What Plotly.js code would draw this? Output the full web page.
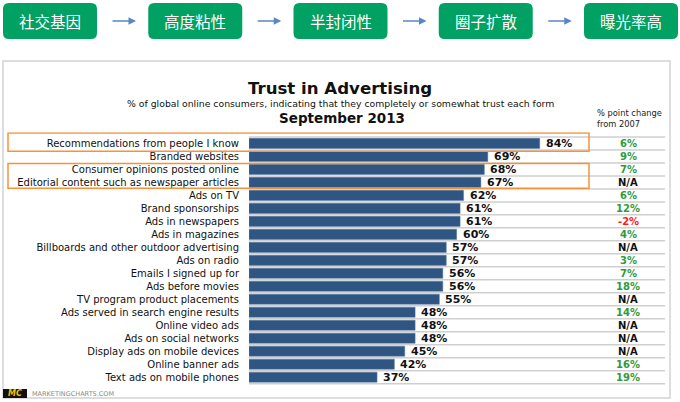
<!DOCTYPE html>
<html>
<head>
<meta charset="utf-8">
<script src="https://cdn.plot.ly/plotly-3.0.1.min.js"></script>
<style>
  html, body { margin: 0; padding: 0; background: #fff; }
  #chart { width: 680px; height: 402px; }
</style>
</head>
<body>
<div id="chart"></div>
<script>
// data
const steps = ['社交基因', '高度粘性', '半封闭性', '圈子扩散', '曝光率高'];
const categories = [
  'Recommendations from people I know',
  'Branded websites',
  'Consumer opinions posted online',
  'Editorial content such as newspaper articles',
  'Ads on TV',
  'Brand sponsorships',
  'Ads in newspapers',
  'Ads in magazines',
  'Billboards and other outdoor advertising',
  'Ads on radio',
  'Emails I signed up for',
  'Ads before movies',
  'TV program product placements',
  'Ads served in search engine results',
  'Online video ads',
  'Ads on social networks',
  'Display ads on mobile devices',
  'Online banner ads',
  'Text ads on mobile phones'
];
const trustValues = [84, 69, 68, 67, 62, 61, 61, 60, 57, 57, 56, 56, 55, 48, 48, 48, 45, 42, 37];
const changeLabels = ['6%', '9%', '7%', 'N/A', '6%', '12%', '-2%', '4%', 'N/A', '3%',
  '7%', '18%', 'N/A', '14%', 'N/A', 'N/A', 'N/A', '16%', '19%'];
const highlightRows = [[0, 0], [2, 3]];

const W = 680, H = 402;
const px = x => x / W;
const py = y => 1 - y / H;
const FONT = 'DejaVu Sans, Verdana, sans-serif';

function roundRect(x0, y0, x1, y1, r) {
  // path in paper units
  let p = 'M' + px(x0 + r) + ',' + py(y0);
  p += ' L' + px(x1 - r) + ',' + py(y0);
  p += ' Q' + px(x1) + ',' + py(y0) + ' ' + px(x1) + ',' + py(y0 + r);
  p += ' L' + px(x1) + ',' + py(y1 - r);
  p += ' Q' + px(x1) + ',' + py(y1) + ' ' + px(x1 - r) + ',' + py(y1);
  p += ' L' + px(x0 + r) + ',' + py(y1);
  p += ' Q' + px(x0) + ',' + py(y1) + ' ' + px(x0) + ',' + py(y1 - r);
  p += ' L' + px(x0) + ',' + py(y0 + r);
  p += ' Q' + px(x0) + ',' + py(y0) + ' ' + px(x0 + r) + ',' + py(y0) + ' Z';
  return p;
}

let shapes = [];
let annotations = [];

// outer frame
shapes.push({
  type: 'rect', xref: 'paper', yref: 'paper',
  x0: px(3), x1: px(670), y0: py(398), y1: py(61),
  line: { color: '#d2d2d2', width: 1.5 }, fillcolor: 'rgba(0,0,0,0)'
});

// process boxes on top
steps.forEach((s, i) => {
  let x0 = 3 + i * 145.25;
  shapes.push({
    type: 'path', xref: 'paper', yref: 'paper',
    path: roundRect(x0, 3, x0 + 94, 39, 6),
    fillcolor: '#00a162', line: { width: 0 }
  });
  annotations.push({
    xref: 'paper', yref: 'paper', x: px(x0 + 47), y: py(21.5),
    text: s, showarrow: false, xanchor: 'center', yanchor: 'middle',
    font: { family: 'Noto Sans CJK SC', size: 15.5, color: '#fff' }
  });
  if (i < steps.length - 1) {
    annotations.push({
      xref: 'paper', yref: 'paper', x: px(x0 + 133), y: py(21),
      ax: -25, ay: 0, text: '', showarrow: true,
      arrowhead: 2, arrowsize: 1, arrowwidth: 1.5, arrowcolor: '#5a86c5'
    });
  }
});

// row separators
for (let i = 0; i <= categories.length; i++) {
  shapes.push({
    type: 'line', xref: 'x domain', yref: 'y',
    x0: 0, x1: 1, y0: i - 0.5, y1: i - 0.5,
    line: { color: '#cfcfcf', width: 1.5 }, layer: 'below'
  });
}

// orange highlight boxes
highlightRows.forEach(r => {
  shapes.push({
    type: 'rect', xref: 'paper', yref: 'y',
    x0: px(8), x1: px(589),
    y0: r[0] - (r[0] === r[1] ? 0.8 : 0.45), y1: r[1] + (r[0] === r[1] ? 0.6 : 0.45),
    line: { color: '#f7923a', width: 1.5 }, fillcolor: 'rgba(0,0,0,0)'
  });
});

// titles
annotations.push(
  { xref: 'paper', yref: 'paper', x: px(340), y: py(88), text: '<b>Trust in Advertising</b>',
    showarrow: false, yanchor: 'middle', font: { family: FONT, size: 16.6, color: '#111' } },
  { xref: 'paper', yref: 'paper', x: px(340), y: py(104), text: '% of global online consumers, indicating that they completely or somewhat trust each form',
    showarrow: false, yanchor: 'middle', font: { family: FONT, size: 9.3, color: '#111' } },
  { xref: 'paper', yref: 'paper', x: px(342), y: py(118), text: '<b>September 2013</b>',
    showarrow: false, yanchor: 'middle', font: { family: FONT, size: 13.5, color: '#111' } },
  { xref: 'paper', yref: 'paper', x: px(595), y: py(118), text: '% point change<br>from 2007',
    showarrow: false, xanchor: 'left', yanchor: 'middle', align: 'left',
    font: { family: FONT, size: 8.3, color: '#222' } }
);

// value labels and change column
categories.forEach((c, i) => {
  annotations.push({
    x: trustValues[i], y: c, xref: 'x', yref: 'y', text: '<b>' + trustValues[i] + '%</b>',
    showarrow: false, xanchor: 'left', yanchor: 'middle', xshift: 4,
    font: { family: FONT, size: 11, color: '#111' }
  });
  let ch = changeLabels[i];
  let col = ch === 'N/A' ? '#111' : (ch.charAt(0) === '-' ? '#ff1a1a' : '#2e9b3a');
  annotations.push({
    xref: 'paper', yref: 'y', x: px(628), y: c, text: '<b>' + ch + '</b>',
    showarrow: false, xanchor: 'center', yanchor: 'middle',
    font: { family: FONT, size: 10, color: col }
  });
});

// footer logo
shapes.push({
  type: 'rect', xref: 'paper', yref: 'paper',
  x0: px(3), x1: px(27), y0: py(398), y1: py(389),
  fillcolor: '#111', line: { width: 0 }
});
annotations.push(
  { xref: 'paper', yref: 'paper', x: px(15), y: py(393.5), text: '<b><i>MC</i></b>',
    showarrow: false, xanchor: 'center', yanchor: 'middle',
    font: { family: FONT, size: 8, color: '#f2c200' } },
  { xref: 'paper', yref: 'paper', x: px(30), y: py(393.5), text: 'MARKETINGCHARTS.COM',
    showarrow: false, xanchor: 'left', yanchor: 'middle',
    font: { family: FONT, size: 6.5, color: '#8a8a8a' } }
);

let data = [{
  type: 'bar',
  orientation: 'h',
  x: trustValues,
  y: categories,
  marker: { color: '#2f5582', line: { color: '#5a7aa3', width: 0.5 } },
  width: 0.78,
  hoverinfo: 'skip'
}];

let layout = {
  width: W,
  height: H,
  margin: { l: 0, r: 0, t: 0, b: 0 },
  paper_bgcolor: '#fff',
  plot_bgcolor: 'rgba(0,0,0,0)',
  showlegend: false,
  xaxis: {
    domain: [px(249), px(665)],
    range: [0, 120.2],
    visible: false,
    fixedrange: true
  },
  yaxis: {
    domain: [py(385.7), py(132.3)],
    type: 'category',
    autorange: 'reversed',
    showgrid: false,
    zeroline: false,
    showline: false,
    ticks: '',
    ticklabelstandoff: 9,
    tickfont: { family: FONT, size: 10, color: '#111' },
    automargin: false,
    fixedrange: true
  },
  shapes: shapes,
  annotations: annotations
};

Plotly.newPlot('chart', data, layout, { displayModeBar: false, staticPlot: true });
</script>
</body>
</html>
